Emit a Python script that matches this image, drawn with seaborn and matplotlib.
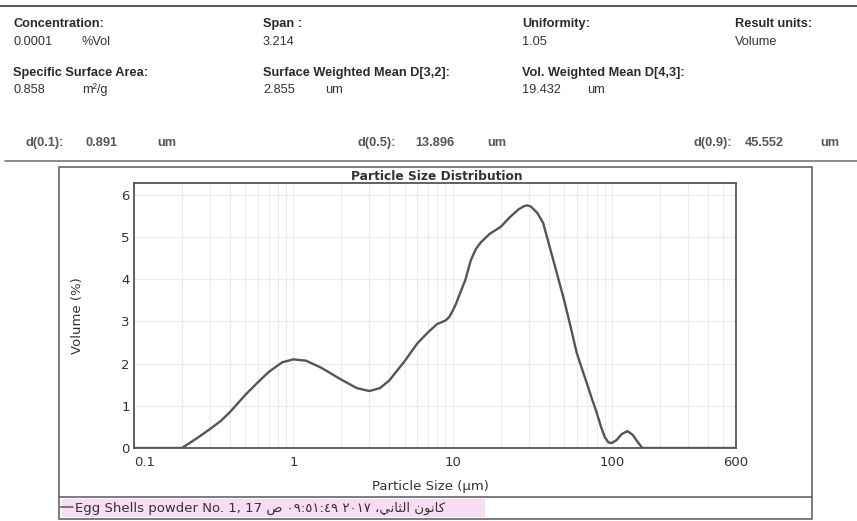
import matplotlib
matplotlib.use("Agg")
import matplotlib.pyplot as plt
from matplotlib.lines import Line2D
from matplotlib.patches import Rectangle
from matplotlib.ticker import NullFormatter, FixedLocator, LogLocator
import seaborn as sns
import pandas as pd

# ---------------- data ----------------
particle_size = [0.1, 0.2, 0.25, 0.3, 0.35, 0.4, 0.5, 0.6, 0.7, 0.85, 1.0, 1.2, 1.5, 2.0,
                 2.5, 3.0, 3.5, 4.0, 5.0, 6.0, 7.0, 8.0, 8.5, 9.0, 9.5, 10.0, 10.5, 11.0,
                 12.0, 13.0, 14.0, 15.0, 17.0, 20.0, 23.0, 26.0, 28.0, 29.5, 31.0, 34.0,
                 37.0, 40.0, 45.0, 50.0, 55.0, 60.0, 65.0, 70.0, 75.0, 80.0, 85.0, 90.0,
                 95.0, 100.0, 107.0, 115.0, 125.0, 135.0, 145.0, 155.0, 600.0]
volume_pct = [0.0, 0.0, 0.24, 0.45, 0.64, 0.85, 1.26, 1.56, 1.8, 2.03, 2.1, 2.07, 1.9, 1.62,
              1.42, 1.35, 1.42, 1.6, 2.06, 2.48, 2.74, 2.94, 2.98, 3.02, 3.1, 3.25, 3.42, 3.62,
              3.98, 4.45, 4.72, 4.87, 5.07, 5.24, 5.48, 5.66, 5.73, 5.75, 5.72, 5.57,
              5.33, 4.86, 4.15, 3.51, 2.87, 2.26, 1.86, 1.5, 1.15, 0.85, 0.52, 0.26,
              0.13, 0.12, 0.19, 0.33, 0.4, 0.31, 0.14, 0.0, 0.0]
x_ticks = [0.1, 1, 10, 100, 600]
x_tick_labels = ["0.1", "1", "10", "100", "600"]
y_ticks = [0, 1, 2, 3, 4, 5, 6]

series_label = ("Egg Shells powder No. 1, 17 \uFEB9 \u0660\u0669:\u0665\u0661:\u0664\u0669 "
                "\u0662\u0660\u0661\u0667 \u060C\uFEF2\uFEE7\uFE8E\uFE9C\uFEDF\uFE8D "
                "\uFEE5\uFEEE\uFEE7\uFE8E\uFEDB")

header_rows = [
    # (x px, y px, text, bold)
    (13, 24, "Concentration:", True), (13, 42, "0.0001", False), (82, 42, "%Vol", False),
    (263, 24, "Span :", True), (263, 42, "3.214", False),
    (522, 24, "Uniformity:", True), (522, 42, "1.05", False),
    (735, 24, "Result units:", True), (735, 42, "Volume", False),
    (13, 73, "Specific Surface Area:", True), (13, 90, "0.858", False), (82, 90, "m\u00b2/g", False),
    (263, 73, "Surface Weighted Mean D[3,2]:", True), (263, 90, "2.855", False), (325, 90, "um", False),
    (522, 73, "Vol. Weighted Mean D[4,3]:", True), (522, 90, "19.432", False), (587, 90, "um", False),
]
d_rows = [
    (26, "d(0.1):"), (85, "0.891"), (157, "um"),
    (357, "d(0.5):"), (415, "13.896"), (487, "um"),
    (693, "d(0.9):"), (745, "45.552"), (820, "um"),
]

df = pd.DataFrame({"size": particle_size, "volume": volume_pct})

# ---------------- figure ----------------
W, H = 857, 521
sns.set_style("white")
plt.rcParams["font.family"] = ["DejaVu Sans"]
fig = plt.figure(figsize=(W / 100, H / 100), dpi=100)

def fx(px):
    return px / W

def fy(py):
    return 1 - py / H

# header texts
for x, y, t, b in header_rows:
    fig.text(fx(x), fy(y), t, ha="left", va="center", fontsize=9.2,
             family=["Liberation Sans", "DejaVu Sans"],
             weight="bold" if b else "normal", color="#2a2a2a" if b else "#333333")
for x, t in d_rows:
    fig.text(fx(x), fy(143), t, ha="left", va="center", fontsize=9.2,
             family=["Liberation Sans", "DejaVu Sans"], weight="bold", color="#555555")

# page rules
fig.add_artist(Line2D([fx(0), fx(857)], [fy(6), fy(6)], color="#555555", lw=1.4))
fig.add_artist(Line2D([fx(5), fx(857)], [fy(161), fy(161)], color="#777777", lw=1.2))

# chart frame
fig.add_artist(Rectangle((fx(59), fy(519)), fx(812) - fx(59), fy(167) - fy(519),
                         fill=False, edgecolor="#666666", lw=1.2))
fig.add_artist(Line2D([fx(59), fx(812)], [fy(497), fy(497)], color="#666666", lw=1.2))
# legend highlight
fig.add_artist(Rectangle((fx(62), fy(517)), fx(485) - fx(62), fy(499) - fy(517),
                         facecolor="#f8dcf4", edgecolor="none", zorder=0))

ax_l, ax_r, ax_t, ax_b = 134, 736, 183, 448
ax = fig.add_axes([fx(ax_l), fy(ax_b), fx(ax_r) - fx(ax_l), fy(ax_t) - fy(ax_b)])
ax.set_xscale("log")
sns.lineplot(data=df, x="size", y="volume", ax=ax, color="#555555", lw=1.7,
             label=series_label, legend=False)
ax.set_xlim(0.1, 600)
ax.set_ylim(0, 6.28)

ax.xaxis.set_major_locator(FixedLocator(x_ticks))
ax.set_xticklabels(x_tick_labels)
ax.xaxis.set_minor_locator(LogLocator(base=10, subs=range(2, 10)))
ax.xaxis.set_minor_formatter(NullFormatter())
ax.set_yticks(y_ticks)
ax.tick_params(axis="both", which="both", length=0, labelsize=9.5, labelcolor="#333333")
ax.tick_params(axis="x", pad=6)
ax.tick_params(axis="y", pad=3)
# first x label sits just right of the corner, below the "0" y label
ax.get_xticklabels()[0].set_horizontalalignment("left")

ax.grid(True, which="both", axis="x", color="#ececec", lw=0.8)
ax.grid(True, which="major", axis="y", color="#ececec", lw=0.8)
for s in ax.spines.values():
    s.set_color("#555555")
    s.set_linewidth(1.3)

ax.set_xlabel("Particle Size (\u00b5m)", fontsize=9.5, color="#333333")
ax.set_ylabel("Volume (%)", fontsize=9.5, color="#333333")
ax.xaxis.set_label_coords((430 - ax_l) / (ax_r - ax_l), -(480 - ax_b) / (ax_b - ax_t))
ax.yaxis.set_label_coords(-(ax_l - 84) / (ax_r - ax_l), 0.5)

ax.text((437 - ax_l) / (ax_r - ax_l), 1.0, "Particle Size Distribution", transform=ax.transAxes,
        ha="center", va="bottom", fontsize=8.8, weight="bold", color="#333333")

handles = [Line2D([0], [0], color="#666666", lw=1.2)]
fig.legend(handles, [series_label], loc="center left", bbox_to_anchor=(fx(60), fy(508)),
           frameon=False, fontsize=9.5, handlelength=1.0, handletextpad=0.1,
           borderpad=0, borderaxespad=0, labelcolor="#333333")

fig.savefig("out.png", dpi=100)
